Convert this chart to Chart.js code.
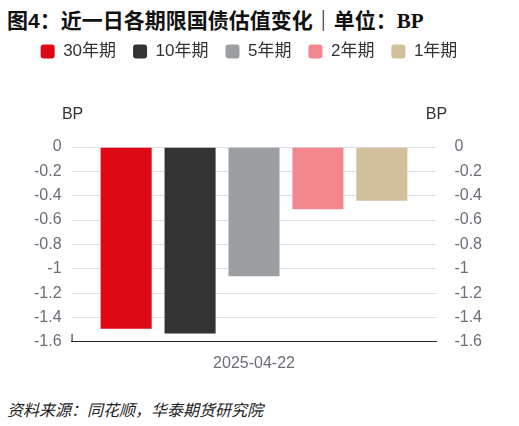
<!DOCTYPE html>
<html>
<head>
<meta charset="utf-8">
<script src="https://cdn.jsdelivr.net/npm/chart.js@4"></script>
<style>
  html, body { margin: 0; padding: 0; background: #fff; }
  body { width: 519px; height: 426px; position: relative; overflow: hidden; font-family: "Liberation Sans", "Noto Sans CJK SC", sans-serif; }
  #title { position: absolute; left: 7px; top: 7px; font-size: 21px; line-height: 28px; font-weight: bold; color: #111; white-space: nowrap; }
  #title .en { font-family: "Liberation Serif", serif; }
  #source { position: absolute; left: 7px; top: 400px; font-size: 16px; line-height: 22px; font-style: italic; color: #222; white-space: nowrap; }
  #wrap { position: absolute; left: 0; top: 27px; width: 519px; height: 350px; }
</style>
</head>
<body>
<div id="title">图4：近一日各期限国债估值变化｜单位：<span class="en">BP</span></div>
<div id="wrap"><canvas id="chart"></canvas></div>
<div id="source">资料来源：同花顺，华泰期货研究院</div>
<script>
const categories = ["2025-04-22"]
const seriesNames = ["30年期", "10年期", "5年期", "2年期", "1年期"]
const seriesValues = [[-1.50], [-1.54], [-1.07], [-0.52], [-0.45]]
const seriesColors = ["#dd0a16", "#333333", "#9c9fa2", "#f3878d", "#d2bf9c"]
const yMin = -1.6
const yMax = 0
const yStep = 0.2
const axisUnit = "BP"

// "BP" unit labels above both y axes, plus the small tick at the left end of the x axis
const axisExtras = {
  id: 'axisExtras',
  afterDraw(chart) {
    const c = chart.ctx
    const area = chart.chartArea
    c.save()
    c.font = '16px "Liberation Sans", Arial, sans-serif'
    c.fillStyle = '#333'
    c.textBaseline = 'middle'
    c.textAlign = 'center'
    c.fillText(axisUnit, area.left + 1, area.top - 32)
    c.fillText(axisUnit, area.right, area.top - 32)
    c.strokeStyle = '#222'
    c.lineWidth = 1
    c.beginPath()
    c.moveTo(area.left + 0.5, area.bottom - 8)
    c.lineTo(area.left + 0.5, area.bottom)
    c.stroke()
    c.restore()
  }
}

const datasets = seriesNames.map((name, i) => ({
  label: name,
  data: seriesValues[i],
  backgroundColor: seriesColors[i],
  borderColor: 'rgba(255,255,255,0.6)',
  borderWidth: 1,
  yAxisID: 'y',
  barPercentage: 0.83,
  categoryPercentage: 0.876
}))

const tickFont = { family: '"Liberation Sans", Arial, sans-serif', size: 16 }
const fmt = v => String(Number(v.toFixed(1)))

new Chart(document.getElementById('chart'), {
  type: 'bar',
  data: { labels: categories, datasets: datasets },
  options: {
    responsive: true,
    maintainAspectRatio: false,
    animation: false,
    layout: { padding: { top: 0, left: 24, right: 27, bottom: 0 } },
    plugins: {
      legend: {
        position: 'top',
        labels: {
          boxWidth: 14,
          boxHeight: 14,
          useBorderRadius: true,
          borderRadius: 3,
          padding: 17,
          color: '#333',
          font: { family: '"Liberation Sans", "Noto Sans CJK SC", sans-serif', size: 17 },
          generateLabels(chart) {
            return chart.data.datasets.map((ds, i) => ({
              text: ds.label,
              fillStyle: ds.backgroundColor,
              strokeStyle: ds.backgroundColor,
              lineWidth: 0,
              borderRadius: 3,
              datasetIndex: i,
              fontColor: '#333'
            }))
          }
        }
      },
      tooltip: { enabled: false }
    },
    scales: {
      x: {
        grid: { display: false },
        border: { display: true, color: '#222', width: 1 },
        ticks: { color: '#6b6d78', font: tickFont, padding: 4 }
      },
      y: {
        position: 'left',
        min: yMin,
        max: yMax,
        grid: { color: '#dcdfe8', lineWidth: 1, drawTicks: false },
        border: { display: false },
        ticks: { stepSize: yStep, color: '#6b6d78', font: tickFont, padding: 10, callback: fmt }
      },
      y2: {
        position: 'right',
        min: yMin,
        max: yMax,
        grid: { display: false },
        border: { display: false },
        ticks: { stepSize: yStep, color: '#6b6d78', font: tickFont, padding: 10, callback: fmt }
      }
    }
  },
  plugins: [axisExtras, {
    id: 'legendGap',
    beforeInit(chart) {
      const legend = chart.legend
      const fit = legend.fit
      legend.fit = function () {
        fit.bind(legend)()
        this.height += 76
      }
      // legend sits a little left of centre in the reference
      const draw = legend.draw
      legend.draw = function () {
        chart.ctx.save()
        chart.ctx.translate(-9, -1)
        draw.bind(legend)()
        chart.ctx.restore()
      }
    }
  }]
})
</script>
</body>
</html>
